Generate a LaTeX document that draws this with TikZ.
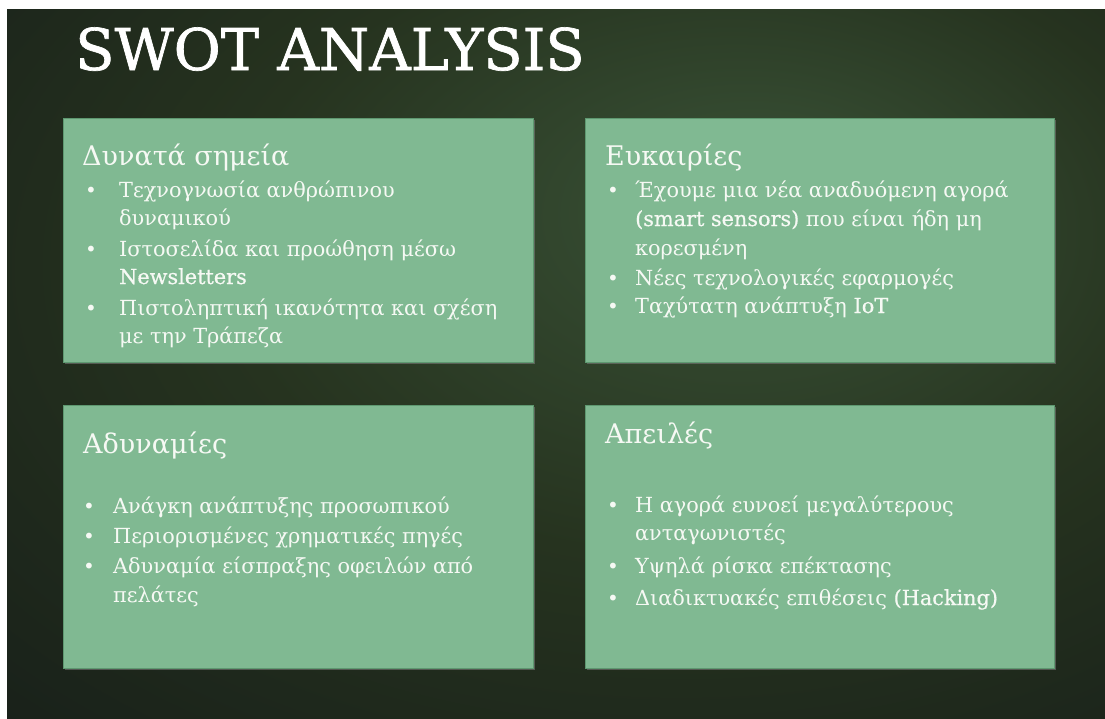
\documentclass[tikz,border=0pt]{standalone}
\usepackage{fontspec}
\setmainfont{DejaVu Serif}
\newfontfamily\titlefont[FakeBold=1.2]{DejaVu Serif}
\newfontfamily\slabfont[FakeBold=0.6]{DejaVu Serif}
\usetikzlibrary{shadows}
\definecolor{boxfill}{HTML}{80B992}
\definecolor{boxline}{HTML}{5E9870}
\definecolor{txt}{HTML}{F6F9F4}
\definecolor{bgdark}{HTML}{19211A}
\definecolor{bgmid}{HTML}{26331F}
\definecolor{bglight}{HTML}{3A5337}
\pgfdeclareradialshading{bgshade}{\pgfpoint{10bp}{12bp}}{color(0bp)=(bglight); color(22bp)=(bgmid); color(42bp)=(bgdark); color(70bp)=(bgdark)}
\begin{document}
\begin{tikzpicture}[x=1pt,y=-1pt,
  box/.style={draw=boxline, line width=1pt, fill=boxfill, inner sep=0pt,
    drop shadow={opacity=0.55, shadow xshift=2pt, shadow yshift=-2pt}},
  head/.style={anchor=base west, inner sep=0pt, text=txt, font=\fontsize{27}{30}\selectfont},
  item/.style={anchor=base west, inner sep=0pt, text=txt, font=\fontsize{20.8}{24}\selectfont},
  bul/.style={anchor=base west, inner sep=0pt, text=txt, font=\fontsize{20}{24}\selectfont}]
\useasboundingbox (0,0) rectangle (1105,718);
\fill[white] (0,0) rectangle (1105,718);
\shade[shading=bgshade] (7,9) rectangle (1105,718);
% title
\node[anchor=base west, inner sep=0pt, text=white, font=\titlefont\fontsize{57.5}{60}\selectfont] (title) at (75,70) {SWOT ANALYSIS};
% boxes
\node[box, minimum width=470, minimum height=244] (S) at (298,240) {};
\node[box, minimum width=469, minimum height=244] (O) at (819.5,240) {};
\node[box, minimum width=470, minimum height=263] (W) at (298,536.5) {};
\node[box, minimum width=469, minimum height=263] (T) at (819.5,536.5) {};
% Strengths
\node[head] (sh) at (82,165) {Δυνατά σημεία};
\node[bul] (sb1) at (85,197) {•};
\node[item] (s1) at (119,197) {Τεχνογνωσία ανθρώπινου};
\node[item] (s1b) at (119,225) {δυναμικού};
\node[bul] (sb2) at (85,256) {•};
\node[item] (s2) at (119,256) {Ιστοσελίδα και προώθηση μέσω};
\node[item] (s2b) at (119,284) {\slabfont Newsletters};
\node[bul] (sb3) at (85,315) {•};
\node[item] (s3) at (119,315) {Πιστοληπτική ικανότητα και σχέση};
\node[item] (s3b) at (119,343) {με την Τράπεζα};
% Opportunities
\node[head] (oh) at (605,165) {Ευκαιρίες};
\node[bul] (ob1) at (607,197) {•};
\node[item] (o1) at (635,197) {Έχουμε μια νέα αναδυόμενη αγορά};
\node[item] (o1b) at (635,226) {{\slabfont(smart sensors)} που είναι ήδη μη};
\node[item] (o1c) at (635,255) {κορεσμένη};
\node[bul] (ob2) at (607,285) {•};
\node[item] (o2) at (635,285) {Νέες τεχνολογικές εφαρμογές};
\node[bul] (ob3) at (607,313) {•};
\node[item] (o3) at (635,313) {Ταχύτατη ανάπτυξη {\slabfont IoT}};
% Weaknesses
\node[head] (wh) at (83,453) {Αδυναμίες};
\node[bul] (wb1) at (83,513) {•};
\node[item] (w1) at (113,513) {Ανάγκη ανάπτυξης προσωπικού};
\node[bul] (wb2) at (83,543) {•};
\node[item] (w2) at (113,543) {Περιορισμένες χρηματικές πηγές};
\node[bul] (wb3) at (83,573) {•};
\node[item] (w3) at (113,573) {Αδυναμία είσπραξης οφειλών από};
\node[item] (w3b) at (113,602) {πελάτες};
% Threats
\node[head] (th) at (605,443) {Απειλές};
\node[bul] (tb1) at (607,512) {•};
\node[item] (t1) at (635,512) {Η αγορά ευνοεί μεγαλύτερους};
\node[item] (t1b) at (635,540) {ανταγωνιστές};
\node[bul] (tb2) at (607,573) {•};
\node[item] (t2) at (635,573) {Υψηλά ρίσκα επέκτασης};
\node[bul] (tb3) at (607,605) {•};
\node[item] (t3) at (635,605) {Διαδικτυακές επιθέσεις {\slabfont(Hacking)}};
\end{tikzpicture}
\end{document}
